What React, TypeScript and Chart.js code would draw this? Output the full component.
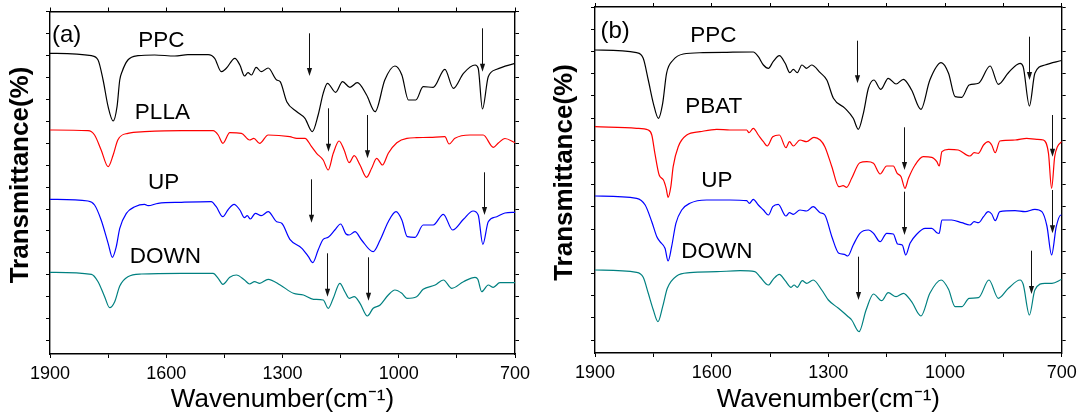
import React, { useEffect, useRef } from "react";
import { Chart, registerables } from "chart.js";

Chart.register(...registerables);

type Pt = [number, number];

const FONT = '"Liberation Sans", Arial, Helvetica, sans-serif';

// ---------- shared x axis (wavenumber, cm-1) ----------
const xTicks = [700, 850, 1000, 1150, 1300, 1450, 1600, 1750, 1900];
const xTickLabels = [1900, 1600, 1300, 1000, 700];

// ---------- panel (a): PPC / PLLA / UP / DOWN ----------
const aPPC: Pt[] = [
  [1900, 300.7], [1793, 298.3], [1776, 294], [1763, 274], [1750, 247.3], [1737, 233], [1727, 247.3],
  [1720, 274], [1714, 282.3], [1699, 294], [1673, 298.3], [1630, 299], [1578, 298], [1544, 299.3],
  [1492, 299.3], [1475, 295.7], [1458, 282.3], [1445, 285.7], [1423, 295.7], [1410, 289], [1398, 278],
  [1389, 281.3], [1380, 279], [1368, 286.7], [1355, 282.3], [1337, 286], [1315, 274], [1306, 272.3],
  [1289, 252.3], [1263, 242.3], [1242, 235.7], [1223, 222.3], [1208, 239], [1195, 260.7], [1184, 270.7],
  [1163, 261.7], [1145, 272.3], [1126, 266.7], [1107, 271.3], [1083, 259], [1061, 242.3], [1036, 274],
  [1010, 288], [992, 279], [975, 254], [956, 254], [937, 267.3], [911, 266.7], [881, 284.7], [859, 265.7],
  [833, 280.7], [803, 289], [795, 285.7], [784, 245], [769, 277.3], [747, 284.7], [700, 290.7],
];
const aPLLA: Pt[] = [
  [1900, 224], [1802, 223.3], [1785, 219], [1768, 204], [1750, 187.3], [1737, 199], [1725, 214],
  [1699, 220.7], [1656, 222.3], [1561, 223.3], [1479, 223.3], [1466, 219], [1454, 210.7], [1436, 221.3],
  [1406, 220.7], [1385, 214], [1374, 215.7], [1359, 210.7], [1337, 219], [1281, 217.3], [1263, 215.7],
  [1242, 215.7], [1225, 207.3], [1212, 200.7], [1195, 194], [1182, 184], [1169, 200.7], [1154, 213],
  [1141, 204], [1128, 191.3], [1115, 198.3], [1100, 189], [1083, 176.7], [1070, 185.7], [1057, 195.7],
  [1042, 189], [1027, 200.7], [1005, 211.3], [979, 215.7], [954, 216.3], [919, 216.7], [881, 217.3],
  [870, 210], [855, 215.7], [816, 219], [782, 219], [756, 206.7], [743, 211], [726, 215.5], [700, 211.3],
];
const aUP: Pt[] = [
  [1900, 154.7], [1802, 153], [1785, 149], [1768, 134], [1750, 110.7], [1739, 96.7], [1729, 107.3],
  [1720, 125.7], [1703, 140.7], [1681, 147.3], [1656, 149.7], [1647, 148.3], [1621, 150.7], [1561, 151.7],
  [1484, 152.3], [1471, 147.3], [1454, 137.3], [1441, 144], [1425, 149.7], [1410, 144], [1398, 136.3],
  [1391, 138.3], [1383, 135], [1370, 140.7], [1355, 138.3], [1337, 142.3], [1315, 132.3], [1302, 130.7],
  [1281, 114.7], [1250, 105.7], [1233, 97.3], [1222, 91.3], [1208, 104], [1195, 114.7], [1182, 116.7],
  [1165, 124], [1150, 130], [1136, 120], [1128, 119], [1113, 122.3], [1096, 114], [1066, 102.3],
  [1048, 114], [1027, 132.3], [1007, 142.3], [992, 134], [978, 117.3], [958, 116.7], [937, 129],
  [911, 129], [885, 139.7], [861, 124], [833, 134.7], [808, 143], [795, 139], [783, 109.7], [769, 132.3],
  [747, 137.3], [726, 141], [700, 141.7],
];
const aDOWN: Pt[] = [
  [1900, 81.7], [1793, 79.7], [1776, 72.3], [1759, 57.3], [1746, 46.3], [1733, 52.3], [1720, 68],
  [1699, 77.3], [1664, 80], [1561, 80.7], [1479, 80.7], [1466, 75.7], [1454, 69.7], [1436, 76.7],
  [1419, 79], [1398, 74], [1385, 70], [1372, 72.3], [1359, 70.7], [1337, 74.7], [1306, 69], [1272, 60.7],
  [1246, 59], [1220, 54.7], [1195, 54], [1182, 45.7], [1169, 55.7], [1152, 70.7], [1139, 62.3],
  [1128, 55.7], [1115, 57.3], [1100, 50.7], [1081, 38], [1066, 45.7], [1048, 49], [1027, 59], [1010, 64],
  [992, 60.7], [979, 55.7], [954, 57.3], [937, 64.7], [906, 69], [885, 74], [863, 65.7], [833, 72.3],
  [803, 76.7], [796, 74.7], [786, 62.3], [769, 69], [756, 66.7], [739, 71.3], [700, 71.3],
];
// arrows: [wavenumber, start value, tip value]
const aArrows: number[][] = [
  [1231, 320.7, 278], [784, 325.7, 282.3], [1183, 245.7, 202.3], [1081, 239, 195.7],
  [1226, 174.7, 131.3], [781, 181.7, 139], [1184, 100.7, 57.3], [1080, 96.7, 53.3],
];

// ---------- panel (b): PPC / PBAT / UP / DOWN ----------
const bPPC: Pt[] = [
  [1900, 303], [1793, 300.3], [1776, 294.7], [1763, 273], [1750, 249.7], [1737, 234.7], [1726, 249.7],
  [1716, 279.7], [1699, 293], [1673, 299], [1622, 300.3], [1561, 300.7], [1493, 301], [1480, 296.3],
  [1467, 288], [1454, 284.7], [1442, 291.3], [1426, 297.3], [1411, 289.7], [1399, 280.3], [1390, 283.7],
  [1380, 280.3], [1368, 288], [1356, 284.7], [1343, 288], [1321, 280.3], [1304, 273], [1287, 254.7],
  [1257, 244.7], [1236, 234.7], [1223, 223.7], [1210, 239.7], [1197, 264.7], [1183, 273], [1165, 263.7],
  [1146, 274.7], [1126, 269], [1107, 273.7], [1086, 263], [1062, 243.7], [1039, 273], [1010, 290.3],
  [991, 279.7], [974, 256.3], [957, 255.7], [938, 268], [914, 269.7], [884, 287], [863, 268.7],
  [837, 280.3], [807, 289.7], [799, 286.3], [783, 247], [769, 279.7], [743, 288], [700, 292.5],
];
const bPBAT: Pt[] = [
  [1900, 226.3], [1793, 224.7], [1763, 223], [1754, 218], [1746, 199.7], [1735, 178], [1724, 173],
  [1717, 164.7], [1712, 155.7], [1705, 166.3], [1699, 186.3], [1686, 206.3], [1664, 218], [1630, 221.3],
  [1587, 223.7], [1553, 223], [1510, 223], [1504, 220.3], [1493, 224.7], [1480, 218], [1467, 211.3],
  [1457, 207], [1443, 216.3], [1426, 218], [1409, 205.3], [1400, 211.3], [1390, 207], [1373, 213],
  [1356, 211.3], [1337, 215.7], [1321, 213], [1309, 206.3], [1291, 186.3], [1273, 166.3], [1262, 167.3],
  [1253, 165.7], [1240, 174.7], [1219, 190.3], [1201, 191.3], [1184, 189.7], [1167, 179], [1150, 187],
  [1133, 187], [1123, 179.7], [1113, 176.3], [1103, 164.7], [1094, 174.7], [1077, 188], [1056, 196.3],
  [1034, 195.7], [1021, 191.3], [1015, 187], [1008, 201.3], [991, 203.7], [966, 203], [936, 197],
  [925, 200.3], [914, 199.7], [901, 208], [889, 211.3], [880, 208], [871, 200.3], [859, 212], [820, 213],
  [790, 214.7], [764, 213.7], [747, 213], [734, 199.7], [726, 164.7], [718, 196.3], [711, 206.3], [700, 211.3],
];
const bUP: Pt[] = [
  [1900, 157], [1793, 154.7], [1771, 148], [1754, 131.3], [1741, 116.3], [1733, 111.3], [1720, 104.7],
  [1712, 92], [1703, 106.3], [1692, 129.7], [1677, 143], [1656, 149.7], [1613, 153], [1553, 153],
  [1510, 152.3], [1503, 149.7], [1493, 153.7], [1480, 148], [1467, 143], [1454, 138], [1443, 146.3],
  [1429, 148.7], [1409, 137], [1400, 140.3], [1390, 138.7], [1373, 143], [1356, 142], [1339, 146.3],
  [1321, 140.3], [1309, 138], [1291, 116.3], [1273, 99.7], [1259, 98.7], [1250, 97], [1236, 108],
  [1219, 119.7], [1197, 123], [1184, 119.7], [1167, 111.3], [1150, 119.7], [1133, 119], [1122, 109],
  [1110, 108], [1101, 98], [1090, 109.7], [1073, 118.7], [1051, 124.7], [1034, 124.7], [1021, 120.3],
  [1015, 119.7], [1008, 133], [983, 133], [957, 130.3], [936, 128], [925, 131.3], [914, 130.3],
  [901, 136.3], [889, 141.3], [880, 139], [871, 132.3], [859, 141.3], [820, 142.3], [794, 141.3],
  [769, 143.7], [751, 141.3], [738, 127], [726, 98], [714, 126.3], [702, 138], [700, 138],
];
const bDOWN: Pt[] = [
  [1900, 83], [1793, 80.7], [1776, 75.7], [1763, 59.7], [1750, 43], [1738, 31.3], [1726, 46.3],
  [1714, 64.7], [1690, 77], [1656, 80.3], [1587, 81.3], [1527, 82.3], [1489, 81.3], [1476, 76.3],
  [1454, 68], [1442, 73.7], [1426, 78.7], [1411, 72.3], [1396, 65.7], [1388, 68], [1380, 65.7],
  [1367, 72.3], [1356, 69.7], [1339, 73], [1317, 63], [1300, 53], [1274, 44.7], [1249, 36.3], [1240, 33],
  [1221, 21.3], [1203, 43], [1184, 59], [1163, 52.3], [1146, 60.3], [1126, 56.3], [1107, 59.7],
  [1086, 51.3], [1062, 37], [1039, 59.7], [1010, 73], [991, 63.7], [974, 46.3], [957, 46.3], [938, 54.7],
  [914, 55.3], [887, 73], [863, 54.7], [837, 64.7], [807, 73], [799, 68.7], [783, 38], [769, 63],
  [743, 69.7], [725, 69.7], [700, 73.7],
];
const bArrows: number[][] = [
  [1227, 312.3, 269.7], [784, 316.3, 273], [1105, 225.7, 183], [725, 238, 196.3],
  [1105, 161.3, 118], [725, 163, 119.7], [1225, 96.3, 53], [779, 102.3, 59],
];

// ---------- layout / annotation settings ----------
const panels = [
  {
    key: "a",
    left: 0,
    width: 540,
    area: { left: 50, right: 515, top: 11.5, bottom: 354 },
    yMax: 342.5,
    yTick0: 13.3,
    series: [
      { label: "PPC", data: aPPC, color: "#000000" },
      { label: "PLLA", data: aPLLA, color: "#ff0000" },
      { label: "UP", data: aUP, color: "#0000ff" },
      { label: "DOWN", data: aDOWN, color: "#008080" },
    ],
    arrows: aArrows,
    labels: [
      { text: "(a)", x: 1895, y: 312.3, size: 24 },
      { text: "PPC", x: 1672, y: 307.3, size: 22.5 },
      { text: "PLLA", x: 1681, y: 234.8, size: 22.5 },
      { text: "UP", x: 1647, y: 164.7, size: 22.5 },
      { text: "DOWN", x: 1694, y: 91.3, size: 22.5 },
    ],
    yTitleX: 21,
    yTitleY: 175,
  },
  {
    key: "b",
    left: 540,
    width: 541,
    area: { left: 55, right: 521.7, top: 7, bottom: 353 },
    yMax: 346,
    yTick0: 13,
    series: [
      { label: "PPC", data: bPPC, color: "#000000" },
      { label: "PBAT", data: bPBAT, color: "#ff0000" },
      { label: "UP", data: bUP, color: "#0000ff" },
      { label: "DOWN", data: bDOWN, color: "#008080" },
    ],
    arrows: bArrows,
    labels: [
      { text: "(b)", x: 1886, y: 314.7, size: 24 },
      { text: "PPC", x: 1655, y: 310.7, size: 22.5 },
      { text: "PBAT", x: 1668, y: 239.7, size: 22.5 },
      { text: "UP", x: 1627, y: 166.3, size: 22.5 },
      { text: "DOWN", x: 1678, y: 94.7, size: 22.5 },
    ],
    yTitleX: 24.6,
    yTitleY: 172.5,
  },
];

const H = 417;

function overlay(p: any) {
  return {
    id: "overlay_" + p.key,
    afterDatasetsDraw(chart: any) {
      const { ctx } = chart;
      const xs = chart.scales.x;
      const ys = chart.scales.y;
      ctx.save();
      ctx.strokeStyle = "#111";
      ctx.fillStyle = "#111";
      ctx.lineWidth = 1;
      for (const [wn, y0, y1] of p.arrows) {
        const px = Math.round(xs.getPixelForValue(wn)) + 0.5;
        const p0 = ys.getPixelForValue(y0);
        const p1 = ys.getPixelForValue(y1);
        const head = 8;
        const hw = 2.6;
        ctx.beginPath();
        ctx.moveTo(px, p0);
        ctx.lineTo(px, p1 - head + 1);
        ctx.stroke();
        ctx.beginPath();
        ctx.moveTo(px - hw, p1 - head);
        ctx.lineTo(px + hw, p1 - head);
        ctx.lineTo(px, p1);
        ctx.closePath();
        ctx.fill();
      }
      ctx.fillStyle = "#000";
      ctx.textAlign = "left";
      ctx.textBaseline = "alphabetic";
      for (const l of p.labels) {
        ctx.font = `${l.size}px ${FONT}`;
        ctx.fillText(l.text, xs.getPixelForValue(l.x), ys.getPixelForValue(l.y));
      }
      ctx.font = `bold 26px ${FONT}`;
      ctx.textAlign = "center";
      ctx.textBaseline = "middle";
      ctx.translate(p.yTitleX, p.yTitleY);
      ctx.rotate(-Math.PI / 2);
      ctx.fillText("Transmittance(%)", 0, 0);
      ctx.restore();
    },
  };
}

function Panel({ p }: { p: any }) {
  const ref = useRef<HTMLCanvasElement | null>(null);
  useEffect(() => {
    if (!ref.current) return;
    const a = p.area;
    const step = (p.yMax - p.yTick0) / 15;
    const yTicks = Array.from({ length: 16 }, (_, k) => p.yTick0 + k * step);
    const setY = (scale: any) => {
      scale.ticks = yTicks.map((v) => ({ value: v }));
    };
    const setX = (scale: any) => {
      scale.ticks = xTicks.map((v) => ({ value: v }));
    };
    const grid = {
      drawOnChartArea: false,
      drawTicks: true,
      tickLength: 4,
      color: "#000",
      lineWidth: 1,
    };
    const border = { display: true, color: "#000", width: 1.4 };
    const chart = new Chart(ref.current, {
      type: "line",
      data: {
        datasets: p.series.map((s: any) => ({
          label: s.label,
          data: s.data.map(([x, y]: Pt) => ({ x, y })),
          borderColor: s.color,
          backgroundColor: s.color,
          borderWidth: 1.2,
          pointRadius: 0,
          fill: false,
          cubicInterpolationMode: "monotone",
          xAxisID: "x",
          yAxisID: "y",
        })),
      },
      options: {
        animation: false,
        responsive: false,
        maintainAspectRatio: false,
        devicePixelRatio: 1,
        events: [],
        layout: { padding: 0 },
        plugins: { legend: { display: false }, tooltip: { enabled: false } },
        scales: {
          x: {
            type: "linear",
            position: "bottom",
            min: 700,
            max: 1900,
            reverse: true,
            afterBuildTicks: setX,
            afterFit: (s: any) => {
              s.height = H - a.bottom;
            },
            ticks: {
              autoSkip: false,
              maxRotation: 0,
              minRotation: 0,
              padding: 5,
              color: "#000",
              font: { family: FONT, size: 18 },
              callback: (v: any) => (xTickLabels.includes(Number(v)) ? String(v) : ""),
            },
            grid,
            border,
            title: {
              display: true,
              text: "Wavenumber(cm\u207B\u00B9)",
              color: "#000",
              font: { family: FONT, size: 26 },
              padding: { top: 0, bottom: 2 },
            },
          },
          x2: {
            type: "linear",
            position: "top",
            min: 700,
            max: 1900,
            reverse: true,
            afterBuildTicks: setX,
            afterFit: (s: any) => {
              s.height = a.top;
            },
            ticks: { display: false },
            grid,
            border,
          },
          y: {
            type: "linear",
            position: "left",
            min: 0,
            max: p.yMax,
            afterBuildTicks: setY,
            afterFit: (s: any) => {
              s.width = a.left;
            },
            ticks: { display: false },
            grid,
            border,
          },
          y2: {
            type: "linear",
            position: "right",
            min: 0,
            max: p.yMax,
            afterBuildTicks: setY,
            afterFit: (s: any) => {
              s.width = p.width - a.right;
            },
            ticks: { display: false },
            grid,
            border,
          },
        },
      } as any,
      plugins: [overlay(p)],
    });
    return () => chart.destroy();
  }, [p]);
  return (
    <canvas
      ref={ref}
      width={p.width}
      height={H}
      style={{ position: "absolute", left: p.left, top: 0, width: p.width, height: H }}
    />
  );
}

export default function App() {
  return (
    <div
      style={{
        position: "absolute",
        left: 0,
        top: 0,
        width: 1081,
        height: H,
        background: "#fff",
        overflow: "hidden",
      }}
    >
      {panels.map((p) => (
        <Panel key={p.key} p={p} />
      ))}
    </div>
  );
}
